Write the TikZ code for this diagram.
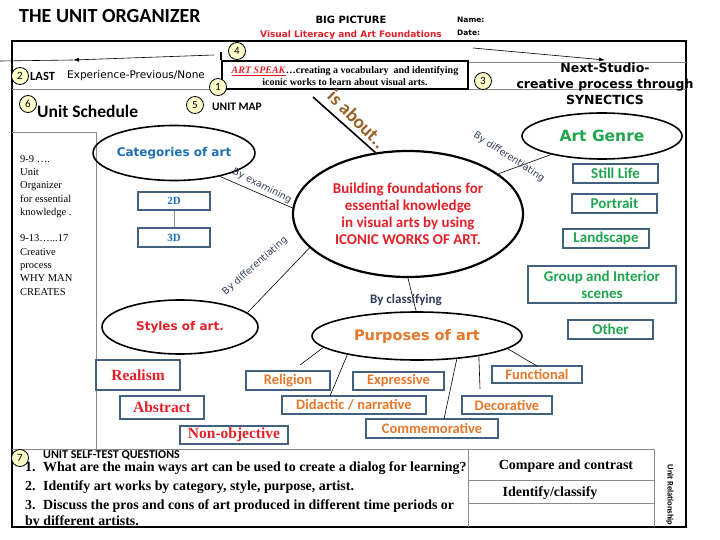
\documentclass[tikz,border=0pt]{standalone}
\usepackage{fontspec}
\setmainfont{Liberation Serif}
\newfontfamily\calf{Carlito}
\newfontfamily\comicf{DejaVu Sans}
\usetikzlibrary{shapes.geometric,arrows.meta}
\newcommand\fsz[2]{\fontsize{#1}{#2}\selectfont}
\definecolor{redT}{HTML}{E3202A}
\definecolor{blueT}{HTML}{1E6EB5}
\definecolor{greenT}{HTML}{1FA54E}
\definecolor{orangeT}{HTML}{E5772A}
\definecolor{slateT}{HTML}{2F3D58}
\definecolor{boxB}{HTML}{41617F}
\definecolor{brownT}{HTML}{9A5F25}
\definecolor{numfill}{HTML}{FFFFCC}
\definecolor{divg}{HTML}{8A8A8A}
\begin{document}
\begin{tikzpicture}[x=1pt,y=-1pt,
  numc/.style={circle,draw,line width=0.8,fill=numfill,minimum size=17pt,inner sep=0pt,font=\calf\fsz{11}{11}},
  ell/.style={ellipse,draw,line width=1.6,inner sep=0pt},
  bx/.style={draw=boxB,line width=1.3,inner sep=0pt},
  divl/.style={draw=divg,line width=0.9},
  conn/.style={draw,line width=0.6},
  lbl/.style={inner sep=0pt,font=\comicf\fsz{9.5}{9.5},text=slateT},
  greenbox/.style={bx,font=\calf\bfseries\fsz{15}{17},text=greenT},
  orangebox/.style={bx,font=\calf\bfseries\fsz{14.5}{15},text=orangeT},
  redbox/.style={bx,font=\bfseries\fsz{15.5}{16},text=redT},
  bluebox/.style={bx,font=\bfseries\fsz{11}{11},text=blueT},
  qtxt/.style={inner sep=0pt,anchor=west,font=\bfseries\fsz{13.9}{13.9}},
  txt/.style={inner sep=0pt}]
\useasboundingbox (0,0) rectangle (720,540);

% ---------- frame and dividers ----------
\draw[line width=2.5] (12,41) rectangle (686,527);
\draw[divl] (468,62) -- (686,62);
\draw[divl] (12,89) -- (222,89);
\draw[divl] (468,89) -- (686,89);
\draw[divl] (12,132) -- (96,132);
\draw[divl] (96,132) -- (96,449);
\draw[divl] (12,449) -- (654,449);
\draw[divl] (468,449) -- (468,527);
\draw[divl] (468,480) -- (654,480);
\draw[divl] (468,503) -- (654,503);
\draw[divl] (654,449) -- (654,527);

% ---------- header ----------
\node[txt,anchor=west,font=\calf\bfseries\fsz{20}{20}] (title) at (19,16) {THE UNIT ORGANIZER};
\node[txt,font=\comicf\bfseries\fsz{10}{10}] (big) at (351,20) {BIG PICTURE};
\node[txt,font=\comicf\bfseries\fsz{9}{9},text=redT] (vis) at (351,35) {Visual Literacy and Art Foundations};
\node[txt,anchor=west,font=\comicf\bfseries\fsz{7.5}{7.5}] (name) at (457,20) {Name:};
\node[txt,anchor=west,font=\comicf\bfseries\fsz{7.5}{7.5}] (date) at (457,33) {Date:};

% ART SPEAK box
\node[draw,line width=2.5,minimum width=246,minimum height=28,inner sep=0pt] (art) at (345,75) {};
\node[txt,align=center,font=\bfseries\fsz{10}{12}] (arttxt) at (345,76)
  {{\color{redT}\underline{\textit{ART SPEAK}}}\ldots creating a vocabulary~ and identifying\\iconic works to learn about visual arts.};
\draw[line width=2.5] (art.north west) -- ++(0,-8) coordinate (tick);

% arrows
\coordinate (a4s) at (214,55);
\coordinate (a4m) at (73,60);
\coordinate (a4e) at (0,61);
\draw[conn,-{Latex[length=6,width=4]}] (a4s) -- (a4m);
\draw[conn] (a4m) -- (a4e);
\coordinate (a3s) at (473,48);
\coordinate (a3e) at (605,60);
\draw[conn,-{Latex[length=6,width=4]}] (a3s) -- (a3e);

\node[txt,anchor=west,font=\calf\bfseries\fsz{12.5}{12.5}] (last) at (30,76) {LAST};
\node[txt,anchor=west,font=\comicf\fsz{10.5}{10.5}] (exp) at (67,76) {Experience-Previous/None};

\node[txt,align=center,font=\comicf\bfseries\fsz{12.5}{16}] (next) at (605,84)
  {Next-Studio-\\creative process through\\SYNECTICS};

\node[txt,anchor=west,font=\calf\bfseries\fsz{17.5}{17.5}] (sched) at (37,111) {Unit Schedule};
\node[txt,anchor=west,font=\calf\bfseries\fsz{11.5}{11.5}] (umap) at (212,107) {UNIT MAP};

% left column
\node[txt,anchor=north west,align=left,font=\fsz{10.5}{13.3}] (leftcol) at (20,155)
  {9-9 \ldots.\\Unit\\Organizer\\for essential\\knowledge .\\[13.3pt]9-13\ldots...17\\Creative\\process\\WHY MAN\\CREATES};

% ---------- map ----------
\node[ell,line width=2.2,minimum width=230,minimum height=126,align=center,
      font=\calf\bfseries\fsz{15}{17},text=redT] (core) at (408,214)
  {Building foundations for\\essential knowledge\\in visual arts by using\\ICONIC WORKS OF ART.};

\node[ell,minimum width=134,minimum height=55,font=\comicf\bfseries\fsz{12}{12},text=blueT] (cat) at (174,153) {Categories of art};
\node[ell,minimum width=156,minimum height=54,font=\comicf\bfseries\fsz{12}{12},text=redT] (styl) at (180,327) {Styles of art.};
\node[ell,minimum width=210,minimum height=48,font=\comicf\bfseries\fsz{14.5}{14.5},text=orangeT] (purp) at (417,336) {Purposes of art};
\node[ell,minimum width=160,minimum height=46,font=\comicf\bfseries\fsz{15.5}{15.5},text=greenT] (genre) at (602,136) {Art Genre};

% is about
\coordinate (isa) at (313,97);
\draw[line width=1.6] (isa) -- (core.118);
\node[txt,rotate=-45,font=\calf\bfseries\fsz{19}{19},text=brownT] (isab) at (357,119) {is about..};

% category boxes
\node[bluebox,minimum width=72,minimum height=18] (d2) at (174,201) {2D};
\node[bluebox,minimum width=72,minimum height=19] (d3) at (174,237.5) {3D};
\draw[draw=divg,line width=1] (d2) -- (d3);

% connectors with labels
\draw[conn] (cat.333) -- (core.177);
\node[lbl,rotate=-27] (lex) at (262,186) {By examining};
\draw[conn] (styl.12) -- (core.199);
\node[lbl,rotate=41] (ldif) at (255,266) {By differentiating};
\draw[conn] (core.270) -- (purp.92);
\node[txt,font=\calf\bfseries\fsz{13}{13},text=slateT] (lcls) at (406,300) {By classifying};
\draw[conn] (core.24) -- (genre.200);
\node[lbl,rotate=-33] (ldif2) at (509,157) {By differentiating};

% genre boxes
\node[greenbox,minimum width=85,minimum height=19] (still) at (615.5,173.5) {Still Life};
\node[greenbox,minimum width=85,minimum height=19] (port) at (614.5,203.5) {Portrait};
\node[greenbox,minimum width=86,minimum height=19] (land) at (606,238.5) {Landscape};
\node[greenbox,minimum width=148,minimum height=37,align=center] (group) at (602,284.5) {Group and Interior\\scenes};
\node[greenbox,minimum width=85,minimum height=19] (other) at (610.5,329.5) {Other};

% style boxes
\node[redbox,minimum width=84,minimum height=30] (real) at (138,375) {Realism};
\node[redbox,minimum width=84,minimum height=23] (abst) at (162,407.5) {Abstract};
\node[redbox,minimum width=108,minimum height=18] (nonobj) at (234,435) {Non-objective};

% purpose boxes
\node[orangebox,minimum width=84,minimum height=19] (relig) at (288,380.5) {Religion};
\node[orangebox,minimum width=91,minimum height=18] (expr) at (398.5,381) {Expressive};
\node[orangebox,minimum width=144,minimum height=18] (didac) at (354,405) {Didactic / narrative};
\node[orangebox,minimum width=90,minimum height=18] (decor) at (507,405) {Decorative};
\node[orangebox,minimum width=132,minimum height=19] (comm) at (432,428.5) {Commemorative};
\node[orangebox,minimum width=90,minimum height=17] (func) at (537,374.5) {Functional};

\coordinate (cRel) at (300,365);
\coordinate (cDid) at (330,396);
\coordinate (cCom) at (444,419);
\coordinate (cDec) at (480,389);
\coordinate (cFun) at (537,366);
\draw[conn] (purp.187) -- (cRel);
\draw[conn] (purp.195) -- (cDid);
\draw[conn] (purp.330) -- (cCom);
\draw[conn] (purp.342) -- (cDec);
\draw[conn] (purp.352) -- (cFun);

% ---------- bottom ----------
\node[txt,anchor=west,font=\calf\bfseries\fsz{12}{12}] (stq) at (43,455) {UNIT SELF-TEST QUESTIONS};
\node[qtxt] (q1) at (25,468) {\makebox[18pt][l]{1.}What are the main ways art can be used to create a dialog for learning?};
\node[qtxt] (q2) at (25,487) {\makebox[18pt][l]{2.}Identify art works by category, style, purpose, artist.};
\node[qtxt] (q3) at (25,506) {\makebox[18pt][l]{3.}Discuss the pros and cons of art produced in different time periods or};
\node[qtxt] (q4) at (25,522) {by different artists.};
\node[txt,font=\bfseries\fsz{14}{14}] (cmp) at (566,466) {Compare and contrast};
\node[txt,font=\bfseries\fsz{14}{14}] (idc) at (550,493) {Identify/classify};
\node[txt,rotate=-90,font=\calf\bfseries\fsz{8.5}{8.5}] (urel) at (670,495) {Unit Relationship};

% ---------- numbered circles ----------
\node[numc] (n4) at (237,51) {4};
\node[numc] (n2) at (20,76) {2};
\node[numc] (n1) at (218,87) {1};
\node[numc] (n3) at (483,81) {3};
\node[numc] (n6) at (28,104) {6};
\node[numc] (n5) at (195,105) {5};
\node[numc] (n7) at (20,458) {7};
\end{tikzpicture}
\end{document}
